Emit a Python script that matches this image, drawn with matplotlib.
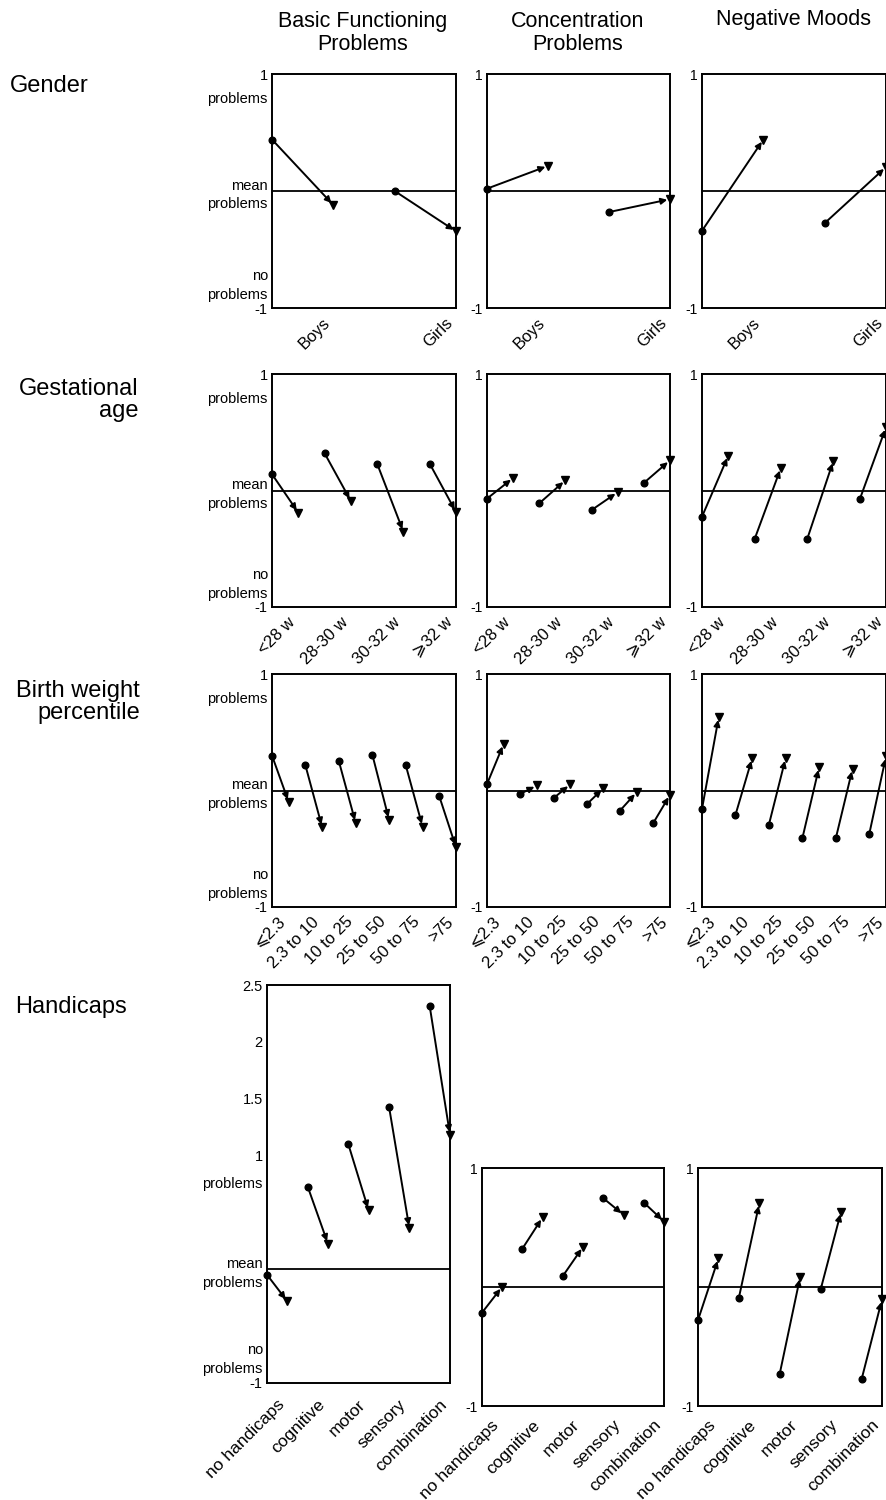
import matplotlib
matplotlib.use("Agg")
import matplotlib.pyplot as plt
import matplotlib.transforms as mtransforms

plt.rcParams['font.family'] = ['Liberation Sans', 'DejaVu Sans']

# ---------------- data ----------------
col_titles = ["Basic Functioning\nProblems", "Concentration\nProblems", "Negative Moods"]
row_titles = ["Gender", "Gestational\nage", "Birth weight\npercentile", "Handicaps"]

gender_cats = ["Boys", "Girls"]
gender_basic_start = [0.44, 0.00]
gender_basic_end = [-0.12, -0.345]
gender_conc_start = [0.02, -0.18]
gender_conc_end = [0.215, -0.07]
gender_mood_start = [-0.34, -0.275]
gender_mood_end = [0.44, 0.205]

gest_cats = ["<28 w", "28-30 w", "30-32 w", "\u2a7e32 w"]
gest_basic_start = [0.14, 0.32, 0.23, 0.23]
gest_basic_end = [-0.19, -0.09, -0.355, -0.185]
gest_conc_start = [-0.07, -0.11, -0.168, 0.065]
gest_conc_end = [0.108, 0.088, -0.014, 0.259]
gest_mood_start = [-0.225, -0.418, -0.418, -0.077]
gest_mood_end = [0.30, 0.194, 0.256, 0.543]

bw_cats = ["\u2a7d2.3", "2.3 to 10", "10 to 25", "25 to 50", "50 to 75", ">75"]
bw_basic_start = [0.30, 0.215, 0.25, 0.307, 0.215, -0.049]
bw_basic_end = [-0.10, -0.316, -0.278, -0.253, -0.31, -0.488]
bw_conc_start = [0.055, -0.029, -0.066, -0.118, -0.172, -0.278]
bw_conc_end = [0.40, 0.043, 0.052, 0.02, -0.014, -0.037]
bw_mood_start = [-0.158, -0.21, -0.293, -0.41, -0.41, -0.373]
bw_mood_end = [0.63, 0.278, 0.278, 0.20, 0.187, 0.293]

hc_cats = ["no handicaps", "cognitive", "motor", "sensory", "combination"]
hc_basic_start = [-0.048, 0.728, 1.10, 1.431, 2.316]
hc_basic_end = [-0.282, 0.224, 0.517, 0.362, 1.182]
hc_conc_start = [-0.216, 0.323, 0.093, 0.746, 0.71]
hc_conc_end = [0.003, 0.586, 0.339, 0.606, 0.55]
hc_mood_start = [-0.278, -0.09, -0.727, -0.02, -0.777]
hc_mood_end = [0.241, 0.704, 0.087, 0.634, -0.104]

std_ticks = [-1, -0.77, 0.0, 0.8, 1]
std_ticklabels = ["-1", "no\nproblems", "mean\nproblems", "problems", "1"]
hc_ticks = [-1, -0.76, 0.0, 0.76, 1, 1.5, 2, 2.5]
hc_ticklabels = ["-1", "no\nproblems", "mean\nproblems", "problems", "1", "1.5", "2", "2.5"]

# ---------------- figure ----------------
W, H = 887, 1500
fig = plt.figure(figsize=(W / 100, H / 100), dpi=100)


def add_ax(x0, y0, x1, y1):
    return fig.add_axes([x0 / W, 1 - y1 / H, (x1 - x0) / W, (y1 - y0) / H])


def draw_panel(ax, cats, start, end, ylim, ticks=None, ticklabels=None,
               xfs=12, xdrop=9):
    n = len(cats)
    ax.set_xlim(0, n - 0.5)
    ax.set_ylim(*ylim)
    ax.axhline(0, color="black", lw=1.3, zorder=1)
    for i, (s, e) in enumerate(zip(start, end)):
        ax.annotate("", xy=(i + 0.5, e), xytext=(i, s),
                    arrowprops=dict(arrowstyle="-|>", color="black", lw=1.4,
                                    mutation_scale=9, shrinkA=0, shrinkB=2),
                    annotation_clip=False, zorder=3)
        ax.plot([i], [s], marker="o", ms=4.8, color="black", clip_on=False, zorder=4)
        ax.plot([i + 0.5], [e], marker="v", ms=6, color="black", clip_on=False, zorder=4)
    # category labels (rotated, right end at the arrow-end position)
    ax.set_xticks([])
    shift = mtransforms.ScaledTranslation(-4 / 72, -xdrop / 72, fig.dpi_scale_trans)
    trans = ax.get_xaxis_transform() + shift
    for i, c in enumerate(cats):
        ax.text(i + 0.5, 0, c, transform=trans, rotation=45, ha="right",
                va="center", rotation_mode="anchor", fontsize=xfs, clip_on=False)
    if ticks is None:
        ax.set_yticks([ylim[0], ylim[1]])
        ax.set_yticklabels(["-1", "1"], fontsize=10)
    else:
        ax.set_yticks(ticks)
        ax.set_yticklabels(ticklabels, fontsize=10.5, linespacing=1.45)
    ax.tick_params(axis="y", length=0, pad=3)
    for sp in ax.spines.values():
        sp.set_linewidth(1.4)


cols_x = [(272, 456), (487, 670), (702, 886)]
rows_y = [(74, 308), (374, 607), (674, 907)]

row_data = [
    (gender_cats, [(gender_basic_start, gender_basic_end), (gender_conc_start, gender_conc_end), (gender_mood_start, gender_mood_end)]),
    (gest_cats, [(gest_basic_start, gest_basic_end), (gest_conc_start, gest_conc_end), (gest_mood_start, gest_mood_end)]),
    (bw_cats, [(bw_basic_start, bw_basic_end), (bw_conc_start, bw_conc_end), (bw_mood_start, bw_mood_end)]),
]

for r, (cats, series) in enumerate(row_data):
    y0, y1 = rows_y[r]
    for c, (s, e) in enumerate(series):
        x0, x1 = cols_x[c]
        ax = add_ax(x0, y0, x1, y1)
        if c == 0:
            draw_panel(ax, cats, s, e, (-1, 1), std_ticks, std_ticklabels)
        else:
            draw_panel(ax, cats, s, e, (-1, 1))

# handicaps row
ax = add_ax(267, 985, 450, 1383)
draw_panel(ax, hc_cats, hc_basic_start, hc_basic_end, (-1, 2.5), hc_ticks, hc_ticklabels,
           xfs=12.5, xdrop=14)
ax = add_ax(482, 1168, 664, 1406)
draw_panel(ax, hc_cats, hc_conc_start, hc_conc_end, (-1, 1), xfs=12.5, xdrop=12)
ax = add_ax(698, 1168, 882, 1406)
draw_panel(ax, hc_cats, hc_mood_start, hc_mood_end, (-1, 1), xfs=12.5, xdrop=12)

# column titles
title_pos = [(363, 33), (578, 33), (794, 20)]
for t, (x, y) in zip(col_titles, title_pos):
    fig.text(x / W, 1 - y / H, t, ha="center", va="center", fontsize=15.5, linespacing=1.12)

# row titles
fig.text(10 / W, 1 - 86 / H, row_titles[0], ha="left", va="center", fontsize=17)
fig.text(138 / W, 1 - 400 / H, row_titles[1], ha="right", va="center", fontsize=17, linespacing=1.05)
fig.text(140 / W, 1 - 702 / H, row_titles[2], ha="right", va="center", fontsize=17, linespacing=1.05)
fig.text(15 / W, 1 - 1007 / H, row_titles[3], ha="left", va="center", fontsize=17)

fig.savefig("out.png", dpi=100, facecolor="white")
